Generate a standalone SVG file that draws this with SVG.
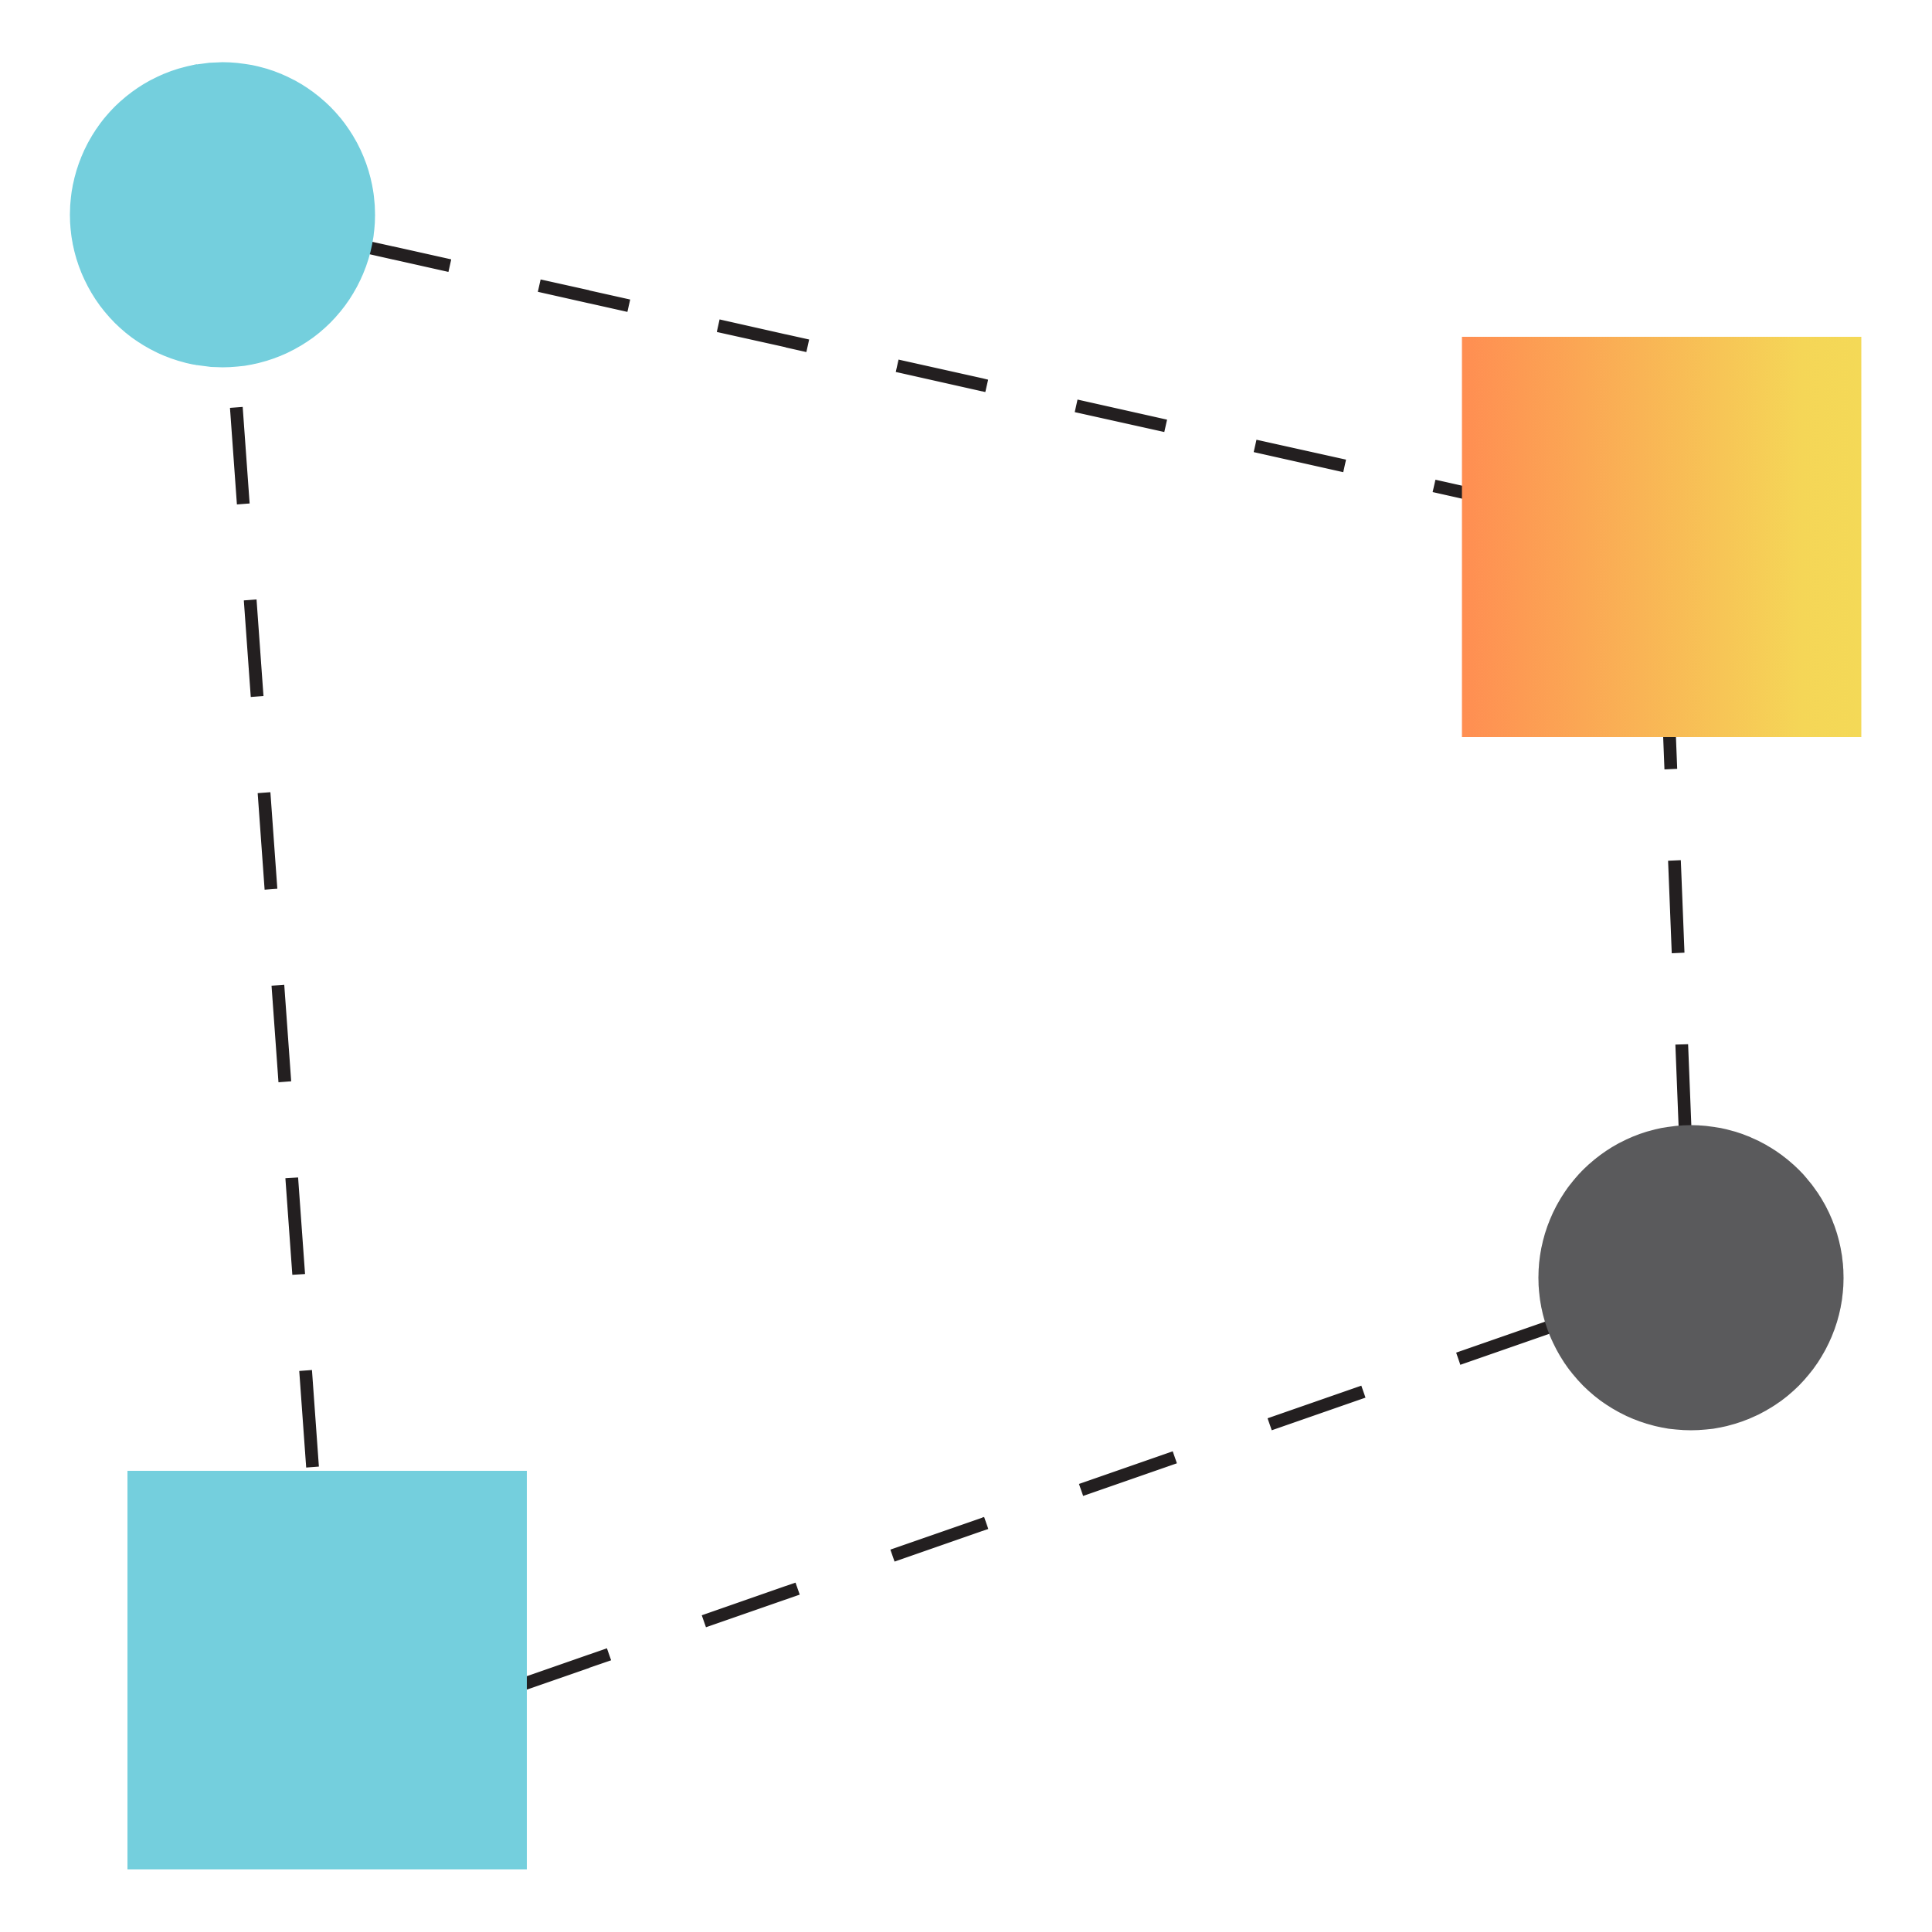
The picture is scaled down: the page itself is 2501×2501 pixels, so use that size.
<svg xmlns="http://www.w3.org/2000/svg" width="2501" height="2501" viewBox="0 0 2501 2501">
  <style>
    .edge { fill: none; stroke: #231F20; stroke-width: 16.5; stroke-linecap: butt; }
    .cyan { fill: #74CFDD; }
    .dark { fill: #5A5A5C; }
  </style>
  <defs>
    <linearGradient id="warm" x1="0" y1="0" x2="1" y2="0">
      <stop offset="0" stop-color="#FF8E52"/>
      <stop offset="0.45" stop-color="#F9B455"/>
      <stop offset="0.85" stop-color="#F5D657"/>
      <stop offset="1" stop-color="#F4D957"/>
    </linearGradient>
  </defs>
  <rect width="2501" height="2501" fill="#FFFFFF"/>
  <g id="connectors">
    <line class="edge" x1="288" y1="278" x2="2151" y2="695" stroke-dasharray="118.8 118.6" stroke-dashoffset="54.6"/>
    <line class="edge" x1="288" y1="278" x2="423.5" y2="2162" stroke-dasharray="125.3 124.7" stroke-dashoffset="0"/>
    <line class="edge" x1="2151" y1="695" x2="2189" y2="1654" stroke-dasharray="119.9 118.4" stroke-dashoffset="57.4"/>
    <line class="edge" x1="2189" y1="1654" x2="500" y2="2241.8" stroke-dasharray="128.5 130" stroke-dashoffset="68"/>
  </g>
  <g id="node-circle-cyan">
    <circle class="cyan" cx="288" cy="278" r="197.5"/>
  </g>
  <g id="node-square-gradient">
    <rect x="1892.5" y="436" width="517" height="518" fill="url(#warm)"/>
  </g>
  <g id="node-circle-dark">
    <circle class="dark" cx="2189" cy="1654" r="197.5"/>
  </g>
  <g id="node-square-cyan">
    <rect class="cyan" x="165" y="1904" width="517" height="516"/>
  </g>
</svg>
